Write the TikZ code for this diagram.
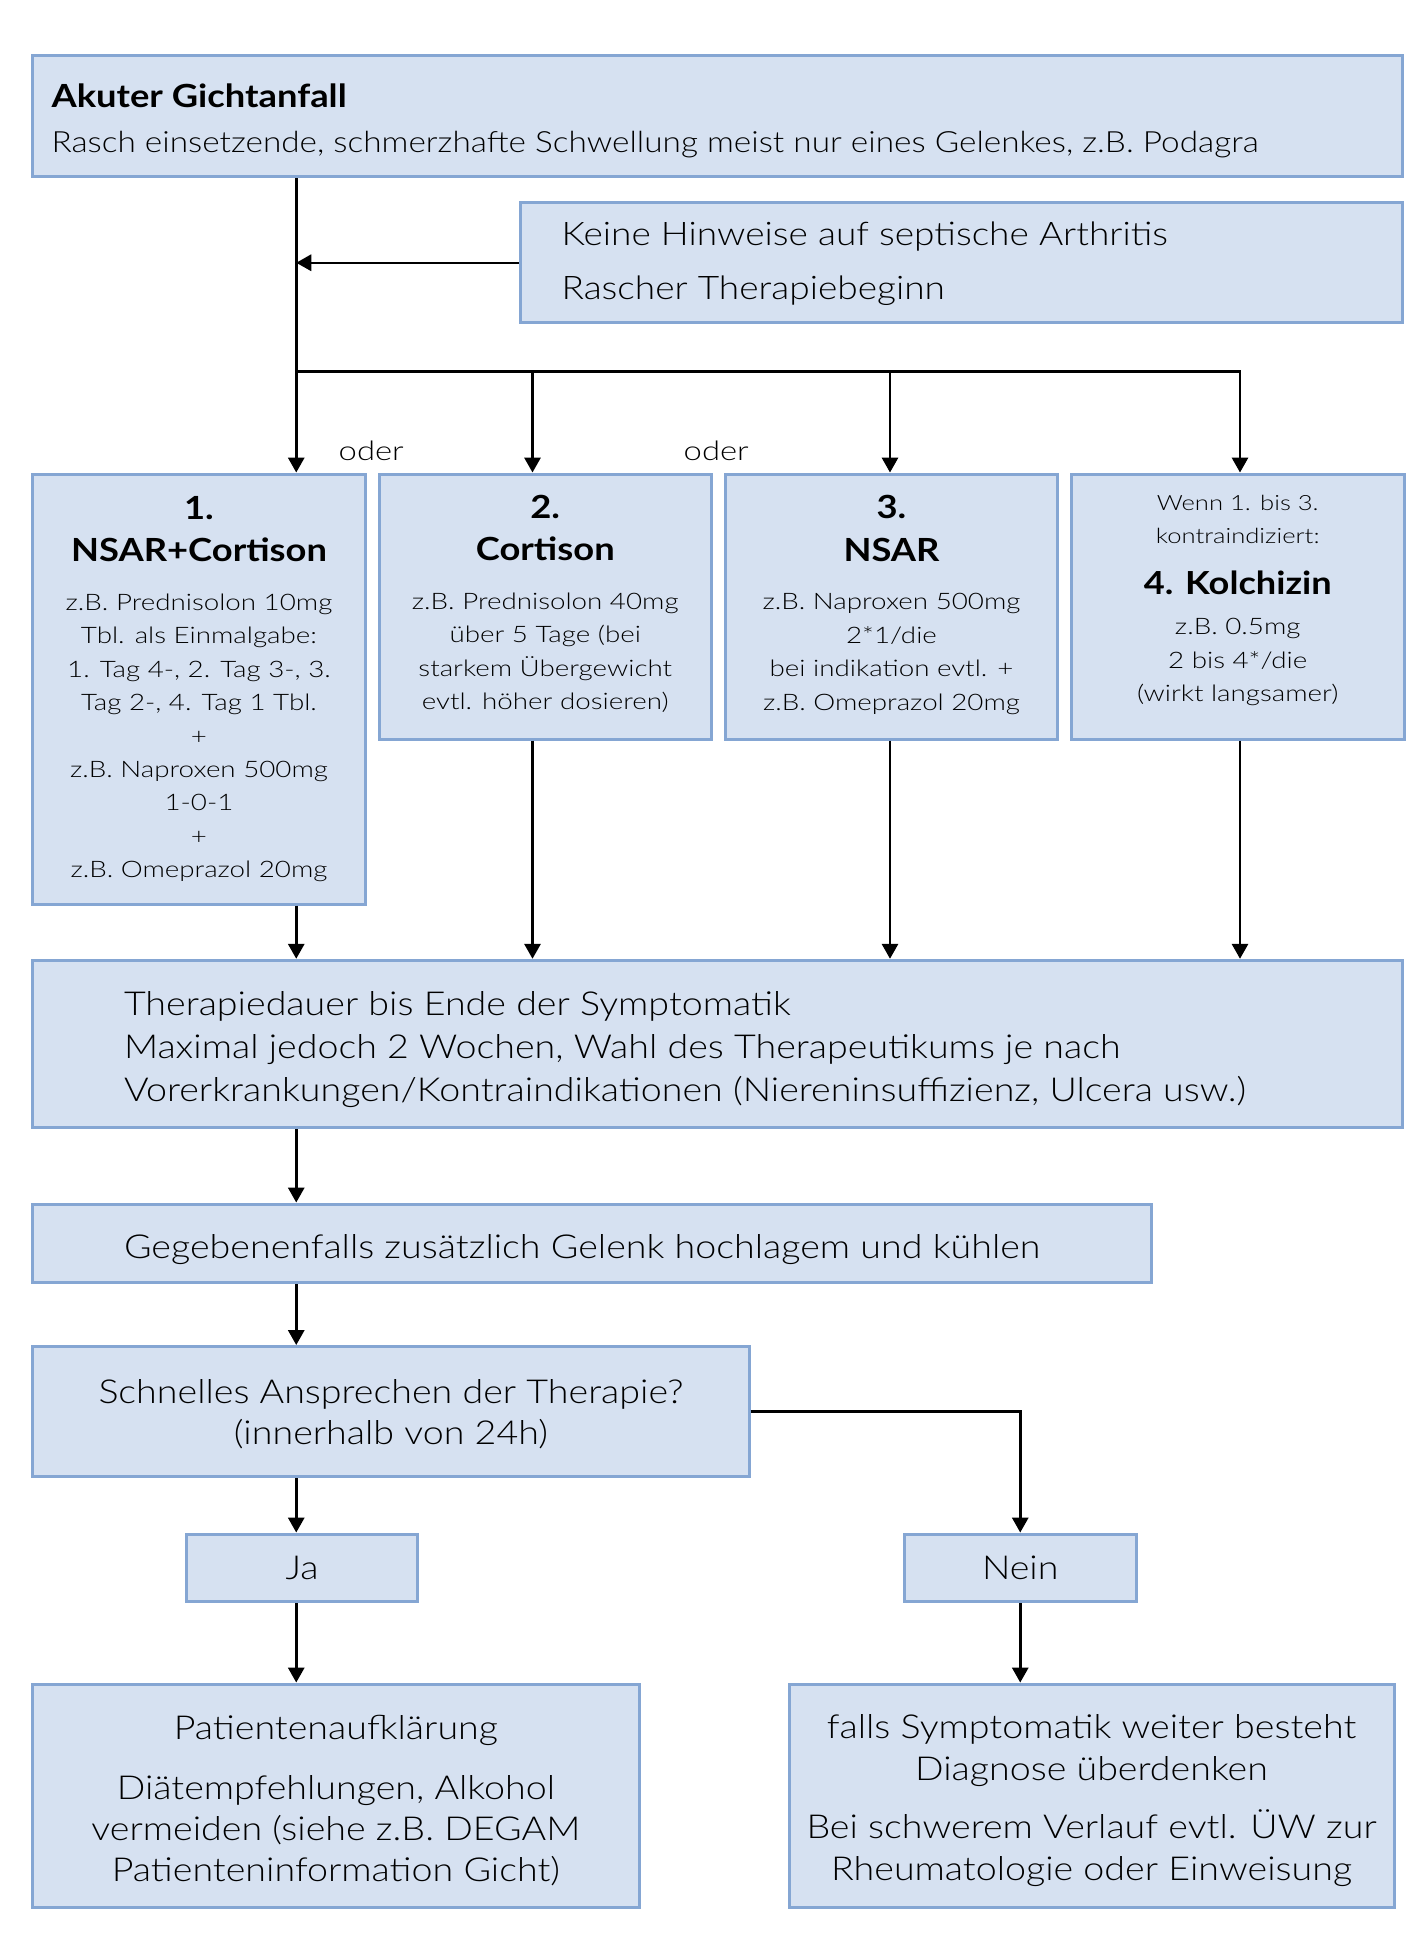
\documentclass[tikz,border=0pt]{standalone}
\usepackage{fontspec}
\setmainfont{Lato Light}[BoldFont={Lato Bold}, FakeStretch=1.14]
\newfontfamily\smallfam{Lato Light}[BoldFont={Lato Bold}, FakeStretch=1.22]
\usetikzlibrary{arrows.meta}
\definecolor{boxfill}{HTML}{D6E1F1}
\definecolor{boxline}{HTML}{85A6D3}
\newcommand\fsMain{\normalfont\fontsize{26.4}{34.5}\selectfont}
\newcommand\fsMainB{\normalfont\fontsize{26.4}{33}\selectfont}
\newcommand\fsSub{\normalfont\fontsize{23.4}{36}\selectfont}
\newcommand\fsTitle{\normalfont\fontsize{25.5}{36}\bfseries\selectfont}
\newcommand\fsB{\normalfont\fontsize{26}{43}\selectfont}
\newcommand\fsSmall{\smallfam\fontsize{18.2}{26.75}\selectfont}
\newcommand\fsHead{\normalfont\fontsize{25.5}{26.75}\bfseries\selectfont}
\newcommand\fsTiny{\smallfam\fontsize{16.8}{26.75}\selectfont}
\newcommand\fsKol{\normalfont\fontsize{25.4}{26.75}\bfseries\selectfont}
\newcommand\fsOder{\smallfam\fontsize{21.5}{24}\selectfont}
\newcommand\dn[1]{\rule[-#1]{0pt}{0pt}}
\newcommand\up[1]{\rule{0pt}{#1}}
\begin{document}
\begin{tikzpicture}[x=1pt,y=-1pt,
  box/.style={draw=boxline, fill=boxfill, line width=2.4pt, inner sep=0pt, anchor=north west},
  txt/.style={inner sep=0pt, anchor=west, align=left},
  arr/.style={line width=2pt, -{Triangle[width=13pt,length=12pt]}},
  ln/.style={line width=2pt}]
\fill[white] (0,0) rectangle (1140.8,1558.4);
\useasboundingbox (0,0) rectangle (1140.8,1558.4);

% top boxes
\node[box, minimum width=1096pt, minimum height=97pt] (A) at (25,43) {};
\node[txt, font=\fsSub] (At) at (41,96.5) {{\fsTitle Akuter Gichtanfall}\\Rasch einsetzende, schmerzhafte Schwellung meist nur eines Gelenkes, z.B. Podagra};

\node[box, minimum width=706pt, minimum height=96pt] (B) at (415,161) {};
\node[txt, font=\fsB] (Bt) at (449,211) {Keine Hinweise auf septische Arthritis\\Rascher Therapiebeginn};

% four options
\node[box, minimum width=266pt, minimum height=344pt, align=center, font=\fsSmall] (b1) at (25,378)
  {{\fsHead 1.}\\[7.25pt]{\fsHead NSAR+Cortison}\\[12.25pt]z.B. Prednisolon 10mg\\Tbl. als Einmalgabe:\\1. Tag 4-, 2. Tag 3-, 3.\\Tag 2-, 4. Tag 1 Tbl.\\+\\z.B. Naproxen 500mg\\1-0-1\\+\\z.B. Omeprazol 20mg};
\node[box, minimum width=266pt, minimum height=212pt, align=center, font=\fsSmall] (b2) at (302,378)
  {{\fsHead 2.}\\[7.25pt]{\fsHead Cortison}\\[12.25pt]z.B. Prednisolon 40mg\\über 5 Tage (bei\\starkem Übergewicht\\evtl. höher dosieren)\dn{7pt}};
\node[box, minimum width=266pt, minimum height=212pt, align=center, font=\fsSmall] (b3) at (579,378)
  {{\fsHead 3.}\\[7.25pt]{\fsHead NSAR}\\[12.25pt]z.B. Naproxen 500mg\\2*1/die\\bei indikation evtl. +\\z.B. Omeprazol 20mg\dn{6pt}};
\node[box, minimum width=266pt, minimum height=212pt, align=center, font=\fsSmall] (b4) at (856,378)
  {{\fsTiny Wenn 1. bis 3.}\\{\fsTiny kontraindiziert:}\\[13.5pt]{\fsKol 4. Kolchizin}\\[5.5pt]z.B. 0.5mg\\2 bis 4*/die\\(wirkt langsamer)\dn{13pt}};

\node[font=\fsOder, inner sep=0pt] (o1) at (297,361) {oder};
\node[font=\fsOder, inner sep=0pt] (o2) at (573,361) {oder};

% therapy duration
\node[box, minimum width=1096pt, minimum height=134pt] (T) at (25,767) {};
\node[txt, font=\fsMain] (Tt) at (99,839.5) {Therapiedauer bis Ende der Symptomatik\\Maximal jedoch 2 Wochen, Wahl des Therapeutikums je nach\\Vorerkrankungen/Kontraindikationen (Niereninsuffizienz, Ulcera usw.)};

\node[box, minimum width=895pt, minimum height=63pt] (G) at (25,962) {};
\node[txt, font=\fsMain] (Gt) at (99,1000) {Gegebenenfalls zusätzlich Gelenk hochlagem und kühlen};

\node[box, minimum width=573pt, minimum height=104pt, align=center, font=\fsMainB] (S) at (25,1076)
  {\up{23pt}Schnelles Ansprechen der Therapie?\\(innerhalb von 24h)};

\node[box, minimum width=185pt, minimum height=54pt, font=\fsMainB] (Ja) at (148,1226) {Ja};
\node[box, minimum width=186pt, minimum height=54pt, font=\fsMainB] (Nein) at (722,1226) {Nein};

\node[box, minimum width=485pt, minimum height=179pt, align=center, font=\fsMainB] (P) at (25,1346)
  {\up{26.8pt}Patientenaufklärung\\[15pt]Diätempfehlungen, Alkohol\\vermeiden (siehe z.B. DEGAM\\Patienteninformation Gicht)};
\node[box, minimum width=484pt, minimum height=179pt, align=center, font=\fsMainB] (F) at (630,1346)
  {\up{26.8pt}falls Symptomatik weiter besteht\\Diagnose überdenken\\[14pt]Bei schwerem Verlauf evtl. ÜW zur\\Rheumatologie oder Einweisung};

% connectors
\coordinate (mx) at (237,0);
\coordinate (c2) at (426,0);
\coordinate (c3) at (712,0);
\coordinate (c4) at (992,0);
\coordinate (j) at (237,297);

\draw[arr] (A.south -| mx) -- (b1.north -| mx);
\draw[arr] (B.west) -- (B.west -| mx);
\draw[arr] (j) -| (b4.north -| c4);
\draw[arr] (j -| c2) -- (b2.north -| c2);
\draw[arr] (j -| c3) -- (b3.north -| c3);

\draw[arr] (b1.south -| mx) -- (T.north -| mx);
\draw[arr] (b2.south -| c2) -- (T.north -| c2);
\draw[arr] (b3.south -| c3) -- (T.north -| c3);
\draw[arr] (b4.south -| c4) -- (T.north -| c4);

\draw[arr] (T.south -| mx) -- (G.north -| mx);
\draw[arr] (G.south -| mx) -- (S.north -| mx);
\draw[arr] (S.south -| mx) -- (Ja.north -| mx);
\draw[arr] (Ja.south -| mx) -- (P.north -| mx);
\draw[arr] (S.east) -| (Nein.north);
\draw[arr] (Nein.south) -- (Nein.south |- F.north);
\end{tikzpicture}
\end{document}
